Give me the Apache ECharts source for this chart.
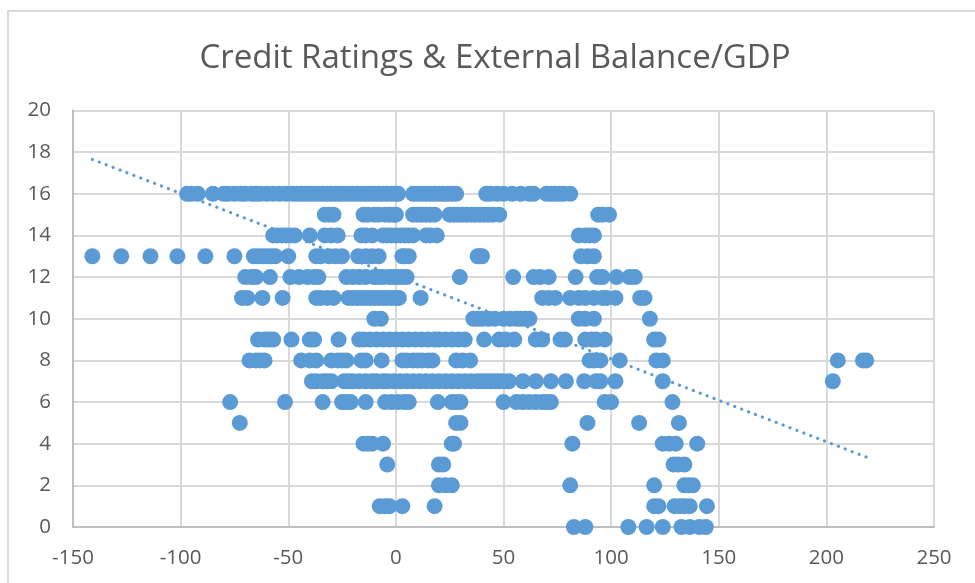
<!DOCTYPE html>
<html><head><meta charset="utf-8">
<style>html,body{margin:0;padding:0;background:#fff}#c{width:975px;height:583px}</style>
<script src="https://cdn.jsdelivr.net/npm/echarts@6/dist/echarts.min.js"></script>
</head><body><div id="c"></div>
<script>
const titleText = "Credit Ratings & External Balance/GDP";
const row16 = [-97,-95,-92,-85,-80,-78,-75,-72,-70,-67,-65,-63,-60,-57,-54,-51,-48,-46,-44,-42,-40,-38,-36,-34,-32,-30,-28,-26,-24,-22,-20,-18,-16,-14,-12,-10,-8,-6,-4,-2,0,1,8,10,12,14,16,18,20,22,24,26,28,42,44,47,50,54,58,62,64,70,72,74,76,78,81];
const row15 = [-33,-31,-29,-15,-13,-10,-8,-5,-3,-1,0,8,10,12,14,16,18,25,27,29,31,33,35,37,39,41,43,45,48,94,96,99];
const row14 = [-57,-55,-53,-51,-49,-47,-40,-33,-30,-27,-16,-14,-11,-6,-4,-2,0,2,4,6,8,14,16,19,85,88,90,92];
const row13 = [-141,-127.6,-114,-101.5,-88.5,-75,-66,-64,-62,-60,-58,-56,-50,-37,-35,-31,-28,-25,-17.5,-14,-11,-8,3,4,6,38,39,40,86,89,92];
const row12 = [-70,-67,-65,-58.5,-49,-45,-41,-38,-36,-23,-20,-17,-14,-10,-8,-6,-3,-1,1,3,5,29.7,54.5,64,67,71,83.5,93.5,96,102.5,108.5,111];
const row11 = [-71.5,-69,-62,-52.6,-37,-35,-32,-29,-22,-20,-18,-16,-14,-12,-10,-8,-6,-4,-2,0,1.4,11.5,68,71,74,81,85,88,92,96,98,102,113.5,115.5];
const row10 = [-10,-7,36,38,40,43,46,50,53,56,58,60,62,85,88,92,118];
const row9 = [-64,-61,-59,-57,-48.5,-40,-38,-26.6,-17,-15,-12,-9,-6,-3,0,3,6,9,12,15,18,20,23,26,29,32,41,48,51,55,65,68,76.5,78.5,88,91,93,97,120,122];
const row8 = [-68,-65,-63,-61,-44,-40,-37,-30,-27,-25,-23,-16,-14,-6.6,3,5,8,10,12,15,17,28,31,34.5,90,92,95,104,121,124,205.3,217,218.5];
const row7 = [-39,-37,-34,-32,-30,-24,-22,-20,-17,-14,-11,-9,-6,-4,-1,2,5,8,11,14,17,20,23,26,29,32,35,38,40,42,44,46,48,50,52.5,59,65,72,79,87.5,93,95,102,124,203];
const row6 = [-77,-51.5,-34,-25,-23,-21,-14,-5,-2,1,4,6,19.5,26,28,30,50,56,59,62,65,68,70,72,97,100,128.5];
const row5 = [-72.5,28,30,89,113,131.5];
const row4 = [-15,-13,-11,-6,26,27,82,124,127,130,140];
const row3 = [-4,20,22,129,131,134];
const row2 = [20,23,26,81,120,134,136,138];
const row1 = [-7.5,-5,-3,3,18,120,122,129.5,132,134,136.5,144.5];
const row0 = [82.7,88,108,116.5,124,132.7,136.6,141,144];
const ratingRows = [[16,row16],[15,row15],[14,row14],[13,row13],[12,row12],[11,row11],[10,row10],[9,row9],[8,row8],[7,row7],[6,row6],[5,row5],[4,row4],[3,row3],[2,row2],[1,row1],[0,row0]];
const trendX = [-141,220];
const trendY = [17.65,3.3];

const points = [];
ratingRows.forEach(([r,xs]) => xs.forEach(x => points.push([x,r])));
const gray = '#595959';
const chart = echarts.init(document.getElementById('c'), null, {renderer:'canvas'});
chart.setOption({
  animation:false,
  backgroundColor:'#fff',
  title:{text:titleText,left:490,top:37,textAlign:'center',
    textStyle:{fontFamily:'"Open Sans"',fontSize:33,fontWeight:'normal',color:gray}},
  graphic:[{type:'rect',silent:true,z:-1,shape:{x:8,y:11,width:1100,height:700},
    style:{fill:'none',stroke:'#d9d9d9',lineWidth:2}}],
  grid:{left:73,right:41,top:110.5,bottom:56},
  xAxis:{type:'value',min:-150,max:250,interval:50,
    axisLine:{show:true,onZero:false,lineStyle:{color:'#bfbfbf',width:2}},
    axisTick:{show:false},
    axisLabel:{color:gray,fontFamily:'"Open Sans"',fontSize:20.5,margin:21,showMinLabel:true,showMaxLabel:true},
    splitLine:{show:true,lineStyle:{color:'#d9d9d9',width:2}}},
  yAxis:{type:'value',min:0,max:20,interval:2,
    axisLine:{show:true,onZero:false,lineStyle:{color:'#bfbfbf',width:2}},
    axisTick:{show:false},
    axisLabel:{color:gray,fontFamily:'"Open Sans"',fontSize:20.5,margin:22},
    splitLine:{show:true,lineStyle:{color:'#d9d9d9',width:2}}},
  series:[
    {type:'scatter',data:points,symbolSize:16,clip:false,
      itemStyle:{color:'#5b9bd5',opacity:1}},
    {type:'line',data:trendX.map((x,i)=>[x,trendY[i]]),symbol:'none',z:3,
      lineStyle:{color:'#5b9bd5',width:3.2,type:[0.1,7.3],cap:'round'}}
  ]
});
</script></body></html>
